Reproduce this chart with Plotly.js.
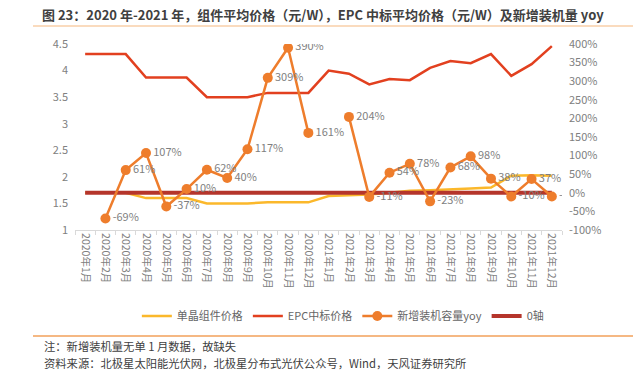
<!DOCTYPE html>
<html>
<head>
<meta charset="utf-8">
<script src="https://cdn.plot.ly/plotly-3.0.1.min.js"></script>
<style>html,body{margin:0;padding:0;background:#fff;}#chart{width:638px;height:373px;}</style>
</head>
<body>
<div id="chart"></div>
<script>
const months = ["2020年1月","2020年2月","2020年3月","2020年4月","2020年5月","2020年6月","2020年7月","2020年8月","2020年9月","2020年10月","2020年11月","2020年12月",
  "2021年1月","2021年2月","2021年3月","2021年4月","2021年5月","2021年6月","2021年7月","2021年8月","2021年9月","2021年10月","2021年11月","2021年12月"];
const modulePrice = [1.70,1.70,1.70,1.60,1.60,1.60,1.50,1.50,1.50,1.52,1.52,1.52,
  1.64,1.65,1.67,1.70,1.74,1.75,1.76,1.78,1.80,2.02,2.03,2.02];
const epcPrice = [4.31,4.31,4.31,3.87,3.87,3.87,3.50,3.50,3.50,3.58,3.58,3.58,
  4.00,3.94,3.74,3.84,3.82,4.05,4.18,4.14,4.31,3.90,4.12,4.46];
const yoy = [null,-69,61,107,-37,10,62,40,117,309,390,161,
  null,204,-11,54,78,-23,68,98,38,-10,37,-10];
const yoyLabels = ["","-69%","61%","107%","-37%","10%","62%","40%","117%","309%","390%","161%",
  "","204%","-11%","54%","78%","-23%","68%","98%","38%","-10%","37%","-10%"];
const zeroAxis = [0,0,0,0,0,0,0,0,0,0,0,0,0,0,0,0,0,0,0,0,0,0,0,0];
const rightTickVals = [-100,-50,0,50,100,150,200,250,300,350,400];
const rightTickText = ["-100%","-50%","0%","50%","100%","150%","200%","250%","300%","350%","400%"];

const FONT = '"Noto Sans CJK SC", "Noto Sans", sans-serif';

const traces = [
  {x: months, y: modulePrice, name: '单晶组件价格', type: 'scatter', mode: 'lines',
   line: {color: '#FBB82B', width: 2.5}, yaxis: 'y', legendrank: 1},
  {x: months, y: epcPrice, name: 'EPC中标价格', type: 'scatter', mode: 'lines',
   line: {color: '#E2401F', width: 2.5}, yaxis: 'y', legendrank: 2},
  {x: months, y: zeroAxis, name: '0轴', type: 'scatter', mode: 'lines',
   line: {color: '#B5352B', width: 4}, yaxis: 'y2', legendrank: 4},
  {x: months, y: yoy, name: '新增装机容量yoy', type: 'scatter', mode: 'lines+markers+text',
   text: yoyLabels, textposition: 'middle right',
   textfont: {family: FONT, size: 11, color: '#7f7f7f'},
   line: {color: '#EE7D2C', width: 2.5}, marker: {color: '#EE7D2C', size: 10},
   connectgaps: false, yaxis: 'y2', legendrank: 3}
];

function px2x(X){ return (X-75)/487; }
function px2y(Y){ return (230-Y)/186; }

const layout = {
  width: 638, height: 373,
  margin: {l: 75, r: 76, t: 44, b: 143, pad: 0},
  paper_bgcolor: '#ffffff', plot_bgcolor: '#ffffff',
  font: {family: FONT, color: '#7f7f7f', size: 11},
  showlegend: true,
  legend: {orientation: 'h', x: 0.55, xanchor: 'center', y: px2y(316), yanchor: 'middle',
    font: {family: FONT, size: 11, color: '#666666'}, traceorder: 'normal', bgcolor: 'rgba(0,0,0,0)'},
  xaxis: {type: 'category', range: [-0.5, 23.5], tickangle: 90, showgrid: false,
    showline: true, linecolor: '#d9d9d9', linewidth: 1,
    ticks: 'outside', tickson: 'boundaries', ticklen: 4, tickcolor: '#d9d9d9',
    tickfont: {family: FONT, size: 10.5, color: '#808080'}, fixedrange: true},
  yaxis: {range: [1, 4.5], dtick: 0.5, showgrid: false, zeroline: false, showline: false,
    ticks: '', ticklabelstandoff: 6, tickfont: {family: FONT, size: 11, color: '#808080'}},
  yaxis2: {range: [-100, 400], tickmode: 'array', tickvals: rightTickVals, ticktext: rightTickText,
    overlaying: 'y', side: 'right', showgrid: false,
    zeroline: false, showline: false, ticks: '', ticklabelstandoff: 6,
    tickfont: {family: FONT, size: 11, color: '#808080'}},
  title: {text: '图 23：2020 年-2021 年，组件平均价格（元/W），EPC 中标平均价格（元/W）及新增装机量 yoy',
    x: 42/638, xanchor: 'left', xref: 'container', y: 1 - 15/373, yanchor: 'middle', yref: 'container',
    font: {family: FONT, size: 13, color: '#404040', weight: 'bold'}},
  shapes: [
    {type: 'line', xref: 'paper', yref: 'paper', x0: px2x(33), x1: px2x(633), y0: px2y(26), y1: px2y(26),
     line: {color: '#F9CFA8', width: 1.5}},
    {type: 'line', xref: 'paper', yref: 'paper', x0: px2x(33), x1: px2x(633), y0: px2y(336), y1: px2y(336),
     line: {color: '#F2A05A', width: 1.5}}
  ],
  annotations: [
    {text: '注：新增装机量无单 1 月数据，故缺失', xref: 'paper', yref: 'paper', x: px2x(42), y: px2y(346),
     xanchor: 'left', yanchor: 'middle', showarrow: false, font: {family: FONT, size: 11.3, color: '#404040'}},
    {text: '资料来源：北极星太阳能光伏网，北极星分布式光伏公众号，Wind，天风证券研究所', xref: 'paper', yref: 'paper',
     x: px2x(42), y: px2y(363), xanchor: 'left', yanchor: 'middle', showarrow: false,
     font: {family: FONT, size: 11.3, color: '#404040'}}
  ]
};

Plotly.newPlot('chart', traces, layout, {displayModeBar: false, staticPlot: true});
</script>
</body>
</html>
